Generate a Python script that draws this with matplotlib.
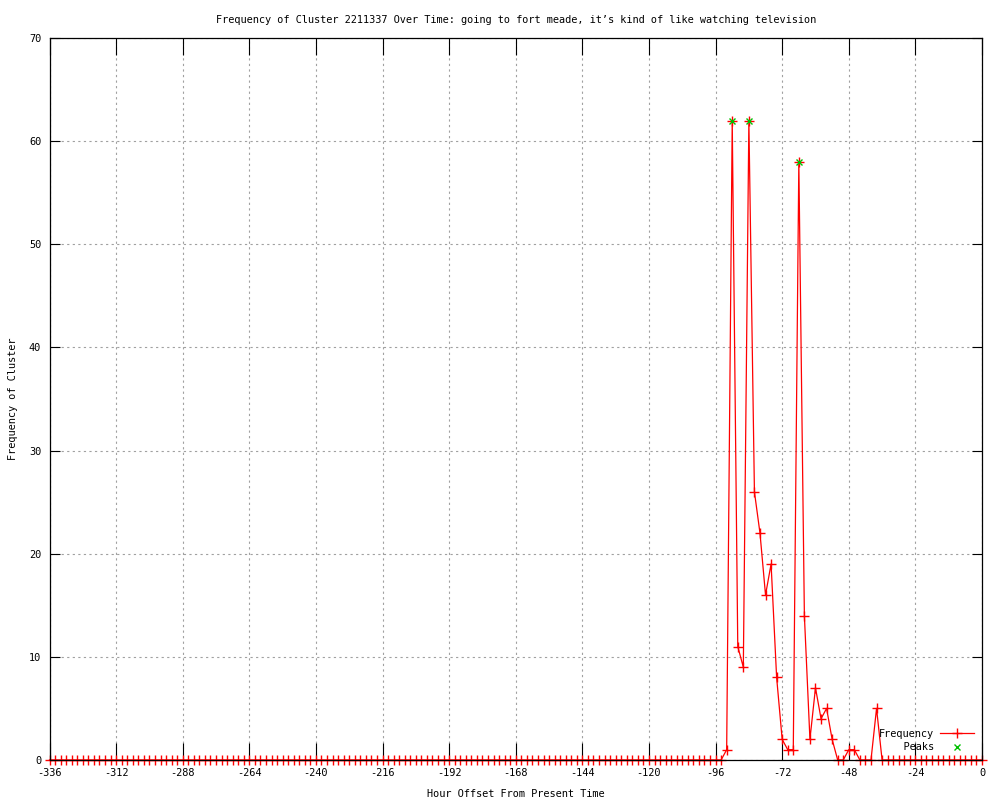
"""
Cluster frequency over time, gnuplot-like look.
"""

import matplotlib
import matplotlib.pyplot as plt
import numpy as np

matplotlib.use("Agg")

# Sample hours (every 2 h) and counts
hours = np.arange(-336, 1, 2)
counts = [
    0, 0, 0, 0, 0, 0, 0, 0, 0, 0, 0, 0,      # -336 .. -314
    0, 0, 0, 0, 0, 0, 0, 0, 0, 0, 0, 0,      # -312 .. -290
    0, 0, 0, 0, 0, 0, 0, 0, 0, 0, 0, 0,      # -288 .. -266
    0, 0, 0, 0, 0, 0, 0, 0, 0, 0, 0, 0,      # -264 .. -242
    0, 0, 0, 0, 0, 0, 0, 0, 0, 0, 0, 0,      # -240 .. -218
    0, 0, 0, 0, 0, 0, 0, 0, 0, 0, 0, 0,      # -216 .. -194
    0, 0, 0, 0, 0, 0, 0, 0, 0, 0, 0, 0,      # -192 .. -170
    0, 0, 0, 0, 0, 0, 0, 0, 0, 0, 0, 0,      # -168 .. -146
    0, 0, 0, 0, 0, 0, 0, 0, 0, 0, 0, 0,      # -144 .. -122
    0, 0, 0, 0, 0, 0, 0, 0, 0, 0, 0, 0,      # -120 .. -98
    0, 0, 1, 62, 11, 9, 62, 26, 22, 16, 19, 8,  # -96 .. -74
    2, 1, 1, 58, 14, 2, 7, 4, 5, 2, 0, 0,    # -72 .. -50
    1, 1, 0, 0, 0, 5, 0, 0, 0, 0, 0, 0,      # -48 .. -26
    0, 0, 0, 0, 0, 0, 0, 0, 0, 0, 0, 0,      # -24 .. -2
    0,                                       # 0
]

peak_hours = [-90, -84, -66]
peak_counts = [62, 62, 58]

x_ticks = np.arange(-336, 1, 24)
y_ticks = np.arange(0, 71, 10)

title = ("Frequency of Cluster 2211337 Over Time: going to fort meade, "
         "it\u2019s kind of like watching television")

FS = 7.4
plt.rcParams['font.family'] = ['DejaVu Sans Mono']
plt.rcParams['font.size'] = FS
plt.rcParams['axes.unicode_minus'] = False

fig = plt.figure(figsize=(10, 8), dpi=100)
ax = fig.add_axes([0.0495, 0.05, 0.9325, 0.9025])

ax.plot(hours, counts, color='red', linewidth=0.9, marker='+',
        markersize=7, markeredgewidth=1.0, label='Frequency', clip_on=False, zorder=3)
ax.plot(peak_hours, peak_counts, linestyle='none', color='#00c000', marker='x',
        markersize=5, markeredgewidth=1.0, label='Peaks', clip_on=False, zorder=4)

ax.set_xlim(-336, 0)
ax.set_ylim(0, 70)
ax.set_xticks(x_ticks)
ax.set_yticks(y_ticks)

ax.grid(True, color='#a0a0a0', linestyle=(0, (2, 3)), linewidth=0.8)
ax.set_axisbelow(True)

ax.tick_params(axis='x', direction='in', length=12, width=0.8, top=True,
               pad=6, colors='black', labelsize=FS)
ax.tick_params(axis='y', direction='in', length=7, width=0.8, right=True,
               pad=6, colors='black', labelsize=FS)
for sp in ax.spines.values():
    sp.set_linewidth(0.9)
    sp.set_zorder(5)

ax.set_xlabel("Hour Offset From Present Time", labelpad=8, fontsize=FS)
ax.set_ylabel("Frequency of Cluster", labelpad=8, fontsize=FS)
ax.set_title(title, pad=11, fontsize=FS)

# right-justify legend labels like gnuplot (monospace font)
leg = ax.legend(loc='lower right', markerfirst=False, frameon=False,
                handlelength=3.3, labelspacing=0.35, borderaxespad=0.35,
                handletextpad=0.6, fontsize=FS)
labels = [t.get_text() for t in leg.get_texts()]
width = max(len(s) for s in labels)
for t in leg.get_texts():
    t.set_text(t.get_text().rjust(width))

fig.savefig("out.png", dpi=100)
plt.close(fig)
